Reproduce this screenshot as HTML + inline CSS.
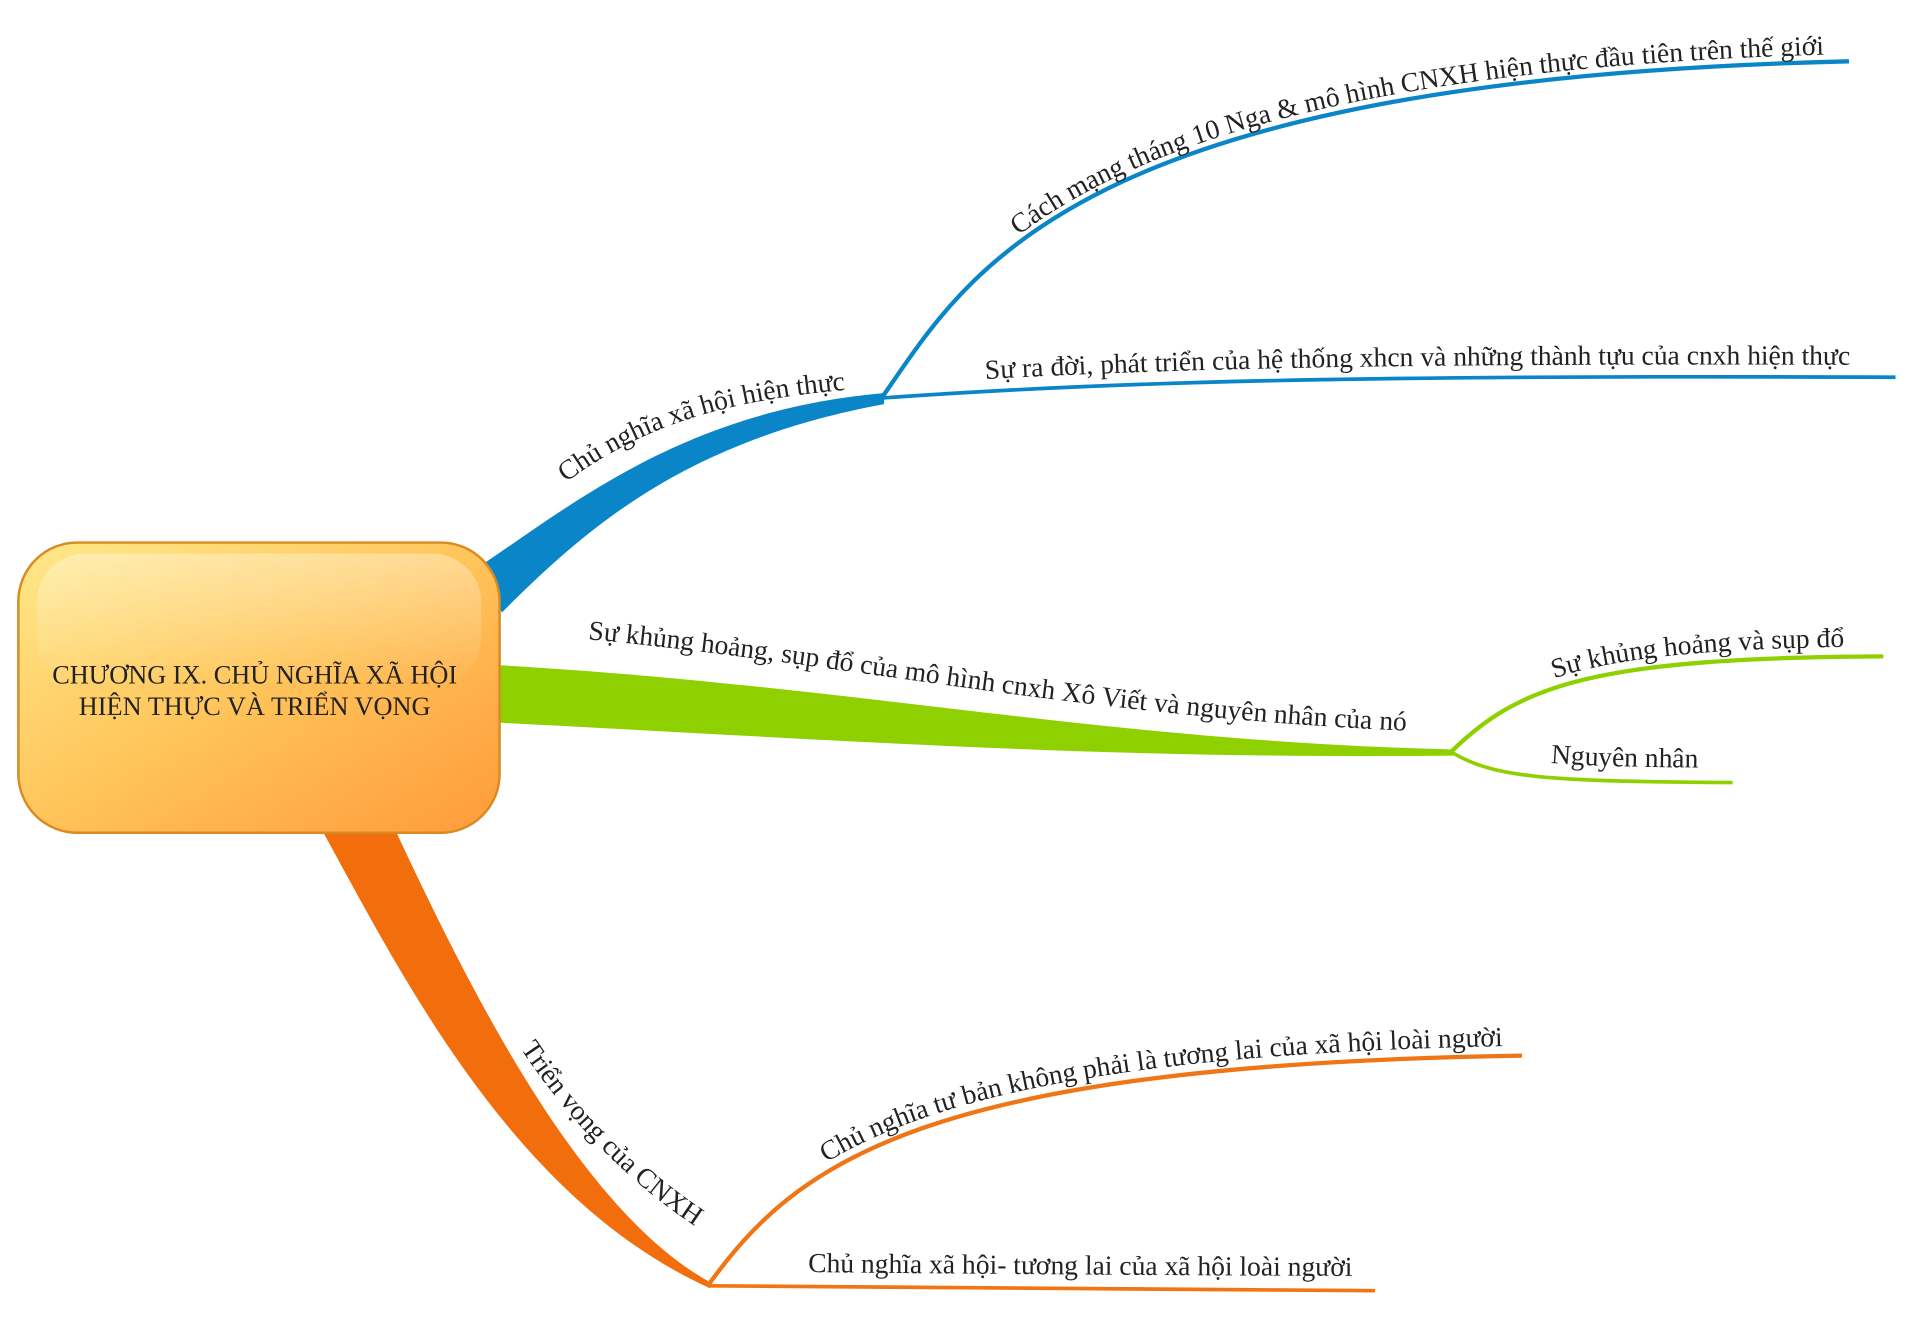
<!DOCTYPE html>
<html><head><meta charset="utf-8"><style>
html,body{margin:0;padding:0;background:#fff;}
svg{display:block;}
text{font-family:"Liberation Serif",serif;fill:#222;}
</style></head><body>
<svg width="1920" height="1341" viewBox="0 0 1568 1095" xmlns="http://www.w3.org/2000/svg">
<defs>
<linearGradient id="cg" x1="0" y1="0" x2="1" y2="1">
<stop offset="0" stop-color="#ffe98a"/><stop offset="0.5" stop-color="#ffc45a"/><stop offset="1" stop-color="#ff9a3a"/>
</linearGradient>
<linearGradient id="gl" x1="0" y1="0" x2="0" y2="1">
<stop offset="0" stop-color="#fff" stop-opacity="0.35"/><stop offset="1" stop-color="#fff" stop-opacity="0"/>
</linearGradient>
<path id="p-blue-main" d="M462,400 C530,350 600,330 720,322"/>
<path id="p-b1" d="M720,325 C790,225 870,65 1510,50"/>
<path id="p-b2" d="M720,325 C900,312 1100,306 1548,308"/>
<path id="p-g-main" d="M470,527 C700,548 900,595 1185,604"/>
<path id="p-g1" d="M1185,614 C1240,560 1300,537 1538,536"/>
<path id="p-g2" d="M1185,614 C1220,635 1260,638 1415,639"/>
<path id="p-o1" d="M578,1050 C650,950 750,870 1243,862"/>
<path id="p-o2" d="M578,1050 C620,1050 800,1053 1123,1054"/>
<path id="t-o-main" d="M415,868 C465,943 520,990 568,1020"/>
</defs>

<path d="M388,465 C470,410 560,335 722,321 L722,330 C560,360 480,430 410,500 Z" fill="#0a86c8"/>
<use href="#p-b1" fill="none" stroke="#0a86c8" stroke-width="3.5"/>
<use href="#p-b2" fill="none" stroke="#0a86c8" stroke-width="3"/>

<path d="M405,543 C700,560 900,605 1187,612 L1187,617 C900,620 700,605 405,590 Z" fill="#8ed000"/>
<use href="#p-g1" fill="none" stroke="#8ed000" stroke-width="3.5"/>
<use href="#p-g2" fill="none" stroke="#8ed000" stroke-width="3"/>

<path d="M262,676 C330,800 420,980 580,1052 L578,1046 C470,985 380,800 322,676 Z" fill="#f26d0c"/>
<use href="#p-o1" fill="none" stroke="#f07515" stroke-width="3.5"/>
<use href="#p-o2" fill="none" stroke="#f07515" stroke-width="3"/>

<g>
<rect x="15" y="443" width="393" height="237" rx="48" fill="url(#cg)" stroke="#d98a20" stroke-width="2"/>
<rect x="30" y="452" width="363" height="110" rx="40" fill="url(#gl)"/>
<text x="208" y="558" text-anchor="middle" font-size="21.5" fill="#555">CHƯƠNG IX. CHỦ NGHĨA XÃ HỘI</text>
<text x="208" y="584" text-anchor="middle" font-size="21.5" fill="#555">HIỆN THỰC VÀ TRIỂN VỌNG</text>
</g>

<text font-size="22.5" transform="translate(0,-6)"><textPath href="#p-blue-main">Chủ nghĩa xã hội hiện thực</textPath></text>
<text font-size="22.5" transform="translate(0,-6)"><textPath href="#p-b1" startOffset="170">Cách mạng tháng 10 Nga &amp; mô hình CNXH hiện thực đầu tiên trên thế giới</textPath></text>
<text font-size="22.5" transform="translate(0,-10)"><textPath href="#p-b2" startOffset="85">Sự ra đời, phát triển của hệ thống xhcn và những thành tựu của cnxh hiện thực</textPath></text>
<text font-size="22.5" transform="translate(0,-6)"><textPath href="#p-g-main" startOffset="10">Sự khủng hoảng, sụp đổ của mô hình cnxh Xô Viết và nguyên nhân của nó</textPath></text>
<text font-size="22.5" transform="translate(0,-8)"><textPath href="#p-g1" startOffset="100">Sự khủng hoảng và sụp đổ</textPath></text>
<text font-size="22.5" transform="translate(0,-12)"><textPath href="#p-g2" startOffset="85">Nguyên nhân</textPath></text>
<text font-size="22.5" transform="translate(10,-12)"><textPath href="#t-o-main">Triển vọng của CNXH</textPath></text>
<text font-size="22.5" transform="translate(0,-8)"><textPath href="#p-o1" startOffset="135">Chủ nghĩa tư bản không phải là tương lai của xã hội loài người</textPath></text>
<text font-size="22.5" transform="translate(0,-12)"><textPath href="#p-o2" startOffset="82">Chủ nghĩa xã hội- tương lai của xã hội loài người</textPath></text>
</svg>
</body></html>
